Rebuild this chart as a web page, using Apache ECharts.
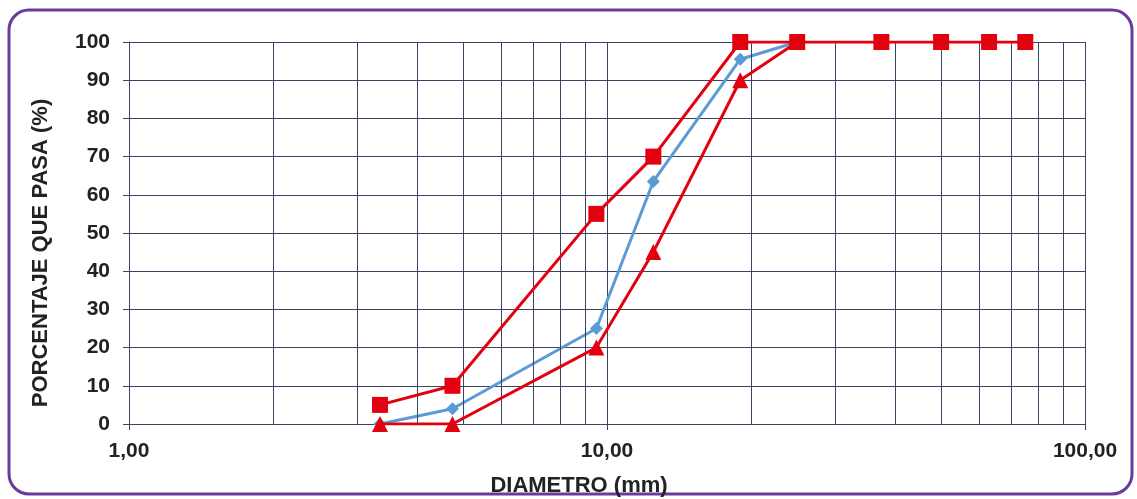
<!DOCTYPE html>
<html>
<head>
<meta charset="utf-8">
<script src="https://cdn.jsdelivr.net/npm/echarts@6/dist/echarts.min.js"></script>
<style>
  html, body { margin: 0; padding: 0; background: #fff; }
  #chart { width: 1137px; height: 499px; }
</style>
</head>
<body>
<div id="chart"></div>
<script>
// tamices (mm)
var sizesUpper = [3.35, 4.75, 9.5, 12.5, 19, 25, 37.5, 50, 63, 75];
var passUpper = [5, 10, 55, 70, 100, 100, 100, 100, 100, 100];

var sizesLower = [3.35, 4.75, 9.5, 12.5, 19, 25];
var passLower = [0, 0, 20, 45, 90, 100];

var sizesSample = [3.35, 4.75, 9.5, 12.5, 19, 25];
var passSample = [0, 4, 25, 63.5, 95.5, 100];

// lineas menores de la escala log
var minorGrid = [2, 3, 4, 5, 6, 7, 8, 9, 20, 30, 40, 50, 60, 70, 80, 90];

function pairs(xs, ys) {
  return xs.map(function (x, i) { return [x, ys[i]]; });
}

var gridColor = '#3c4262';
var red = '#e3000f';
var blue = '#5b9bd5';
var font = 'Arial, "Liberation Sans", sans-serif';

var chart = echarts.init(document.getElementById('chart'));
chart.setOption({
  backgroundColor: '#fff',
  animation: false,
  grid: { left: 129, right: 52, top: 42, bottom: 75 },
  graphic: [
    {
      type: 'rect',
      shape: { x: 9, y: 10, width: 1123, height: 484, r: 20 },
      style: { fill: 'none', stroke: '#6a3a9c', lineWidth: 3 },
      z: -1
    },
    {
      type: 'text',
      x: 579, y: 486,
      style: {
        text: 'DIAMETRO (mm)',
        font: 'bold 22px ' + font,
        fill: '#222',
        textAlign: 'center',
        textVerticalAlign: 'middle'
      }
    },
    {
      type: 'text',
      x: 41, y: 253,
      rotation: Math.PI / 2,
      style: {
        text: 'PORCENTAJE QUE PASA (%)',
        font: 'bold 22px ' + font,
        fill: '#222',
        textAlign: 'center',
        textVerticalAlign: 'middle'
      }
    }
  ],
  xAxis: {
    type: 'log',
    logBase: 10,
    min: 1,
    max: 100,
    axisLine: { show: true, onZero: false, lineStyle: { color: gridColor, width: 1 } },
    axisTick: { show: true, length: 6, lineStyle: { color: gridColor } },
    axisLabel: {
      margin: 17,
      color: '#222',
      fontWeight: 'bold',
      fontSize: 21,
      fontFamily: font,
      formatter: function (v) { return v.toFixed(2).replace('.', ','); }
    },
    splitLine: { show: true, lineStyle: { color: gridColor, width: 1 } }
  },
  yAxis: {
    type: 'value',
    min: 0,
    max: 100,
    interval: 10,
    axisLine: { show: true, lineStyle: { color: gridColor, width: 1 } },
    axisTick: { show: true, length: 6, lineStyle: { color: gridColor } },
    axisLabel: {
      margin: 19,
      color: '#222',
      fontWeight: 'bold',
      fontSize: 21,
      fontFamily: font
    },
    splitLine: { show: true, lineStyle: { color: gridColor, width: 1 } }
  },
  series: [
    {
      name: 'grid',
      type: 'line',
      data: [],
      silent: true,
      markLine: {
        silent: true,
        symbol: 'none',
        label: { show: false },
        lineStyle: { color: gridColor, width: 1, type: 'solid' },
        data: minorGrid.map(function (v) { return { xAxis: v }; })
      },
      z: 1
    },
    {
      name: 'Limite superior',
      type: 'line',
      data: pairs(sizesUpper, passUpper),
      symbol: 'rect',
      symbolSize: 16,
      lineStyle: { color: red, width: 3 },
      itemStyle: { color: red },
      z: 5
    },
    {
      name: 'Muestra',
      type: 'line',
      data: pairs(sizesSample, passSample),
      symbol: 'diamond',
      symbolSize: 13,
      lineStyle: { color: blue, width: 3 },
      itemStyle: { color: blue },
      z: 4
    },
    {
      name: 'Limite inferior',
      type: 'line',
      data: pairs(sizesLower, passLower),
      symbol: 'triangle',
      symbolSize: 16,
      lineStyle: { color: red, width: 3 },
      itemStyle: { color: red },
      z: 6
    }
  ]
});
</script>
</body>
</html>
